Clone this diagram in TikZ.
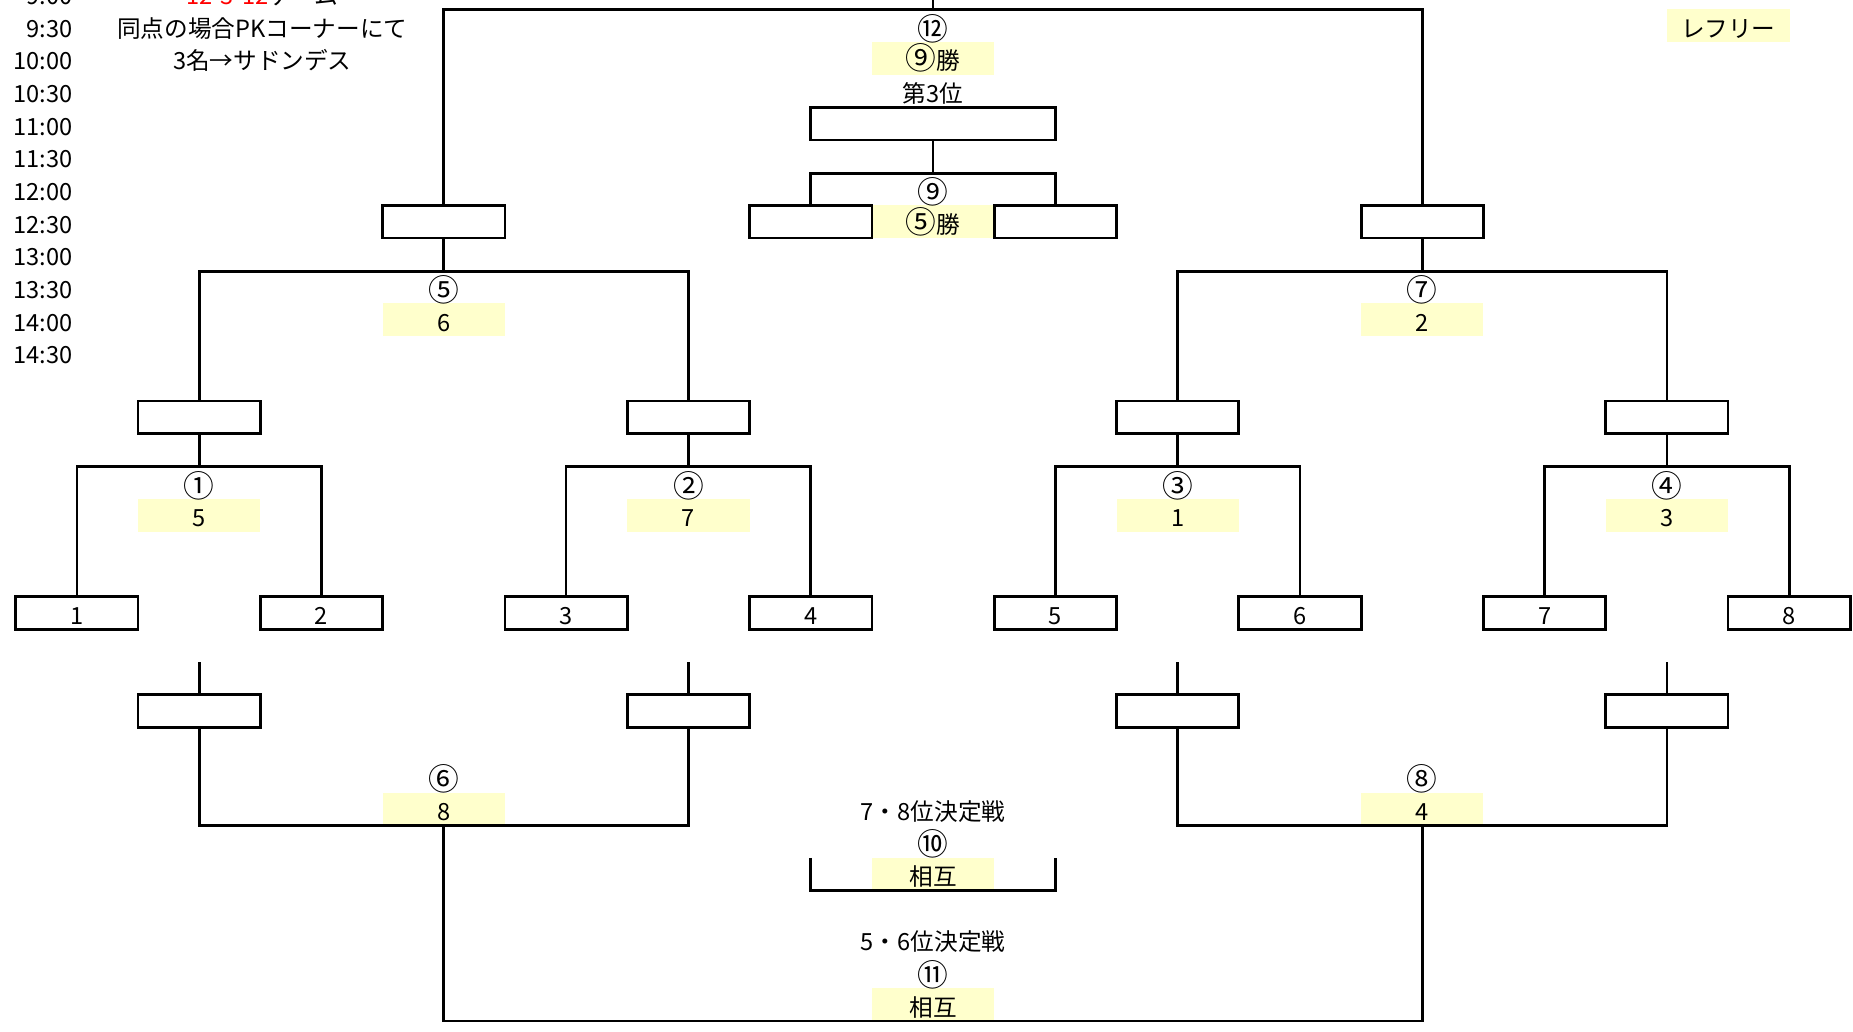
\documentclass[tikz,border=0pt]{standalone}
\usepackage{fontspec}
\setmainfont{Noto Sans CJK JP}
\definecolor{resyellow}{RGB}{255,255,204}
\begin{document}
\begin{tikzpicture}[x=0.5pt,y=-0.5pt,
  font=\fontsize{10pt}{12pt}\selectfont,
  txt/.style={inner sep=0pt, text height=0.98em, text depth=0pt},
  circ/.style={inner sep=0pt, font=\fontsize{13pt}{15pt}\selectfont, text height=1.22em, text depth=0pt},
  slot/.style={txt, draw, line width=1.15pt, minimum width=51.75pt, minimum height=13.8pt},
  wideslot/.style={slot, minimum width=103.5pt},
  res/.style={txt, fill=resyellow, minimum width=51.75pt, minimum height=13.8pt},
  ln/.style={line width=1.15pt},
  tm/.style={txt, anchor=east}]
\useasboundingbox (0,0) rectangle (1568,873);

% ---- time column and notes ----
\node[tm] (t0)  at (62,-5.8)  {9:00};
\node[tm] (t1)  at (62,21.8)  {9:30};
\node[tm] (t2)  at (62,49.4)  {10:00};
\node[tm] (t3)  at (62,77.0)  {10:30};
\node[tm] (t4)  at (62,104.6) {11:00};
\node[tm] (t5)  at (62,132.3) {11:30};
\node[tm] (t6)  at (62,159.9) {12:00};
\node[tm] (t7)  at (62,187.5) {12:30};
\node[tm] (t8)  at (62,215.1) {13:00};
\node[tm] (t9)  at (62,242.7) {13:30};
\node[tm] (t10) at (62,270.3) {14:00};
\node[tm] (t11) at (62,297.9) {14:30};
\node[txt] (note0) at (222,-5.8) {{\color{red}12-3-12}ゲーム};
\node[txt] (note1) at (222,21.8) {同点の場合PKコーナーにて};
\node[txt] (note2) at (222,49.4) {3名→サドンデス};

% ---- yellow result cells ----
\node[res] (ref)  at (1462.5,21.8) {レフリー};
\node[res] (r12)  at (789.55,49.4) {{\fontsize{13pt}{15pt}\selectfont ⑨}勝};
\node[res] (r9)   at (789.55,187.5) {{\fontsize{13pt}{15pt}\selectfont ⑤}勝};
\node[res] (r5)   at (375.55,270.3) {6};
\node[res] (r7)   at (1203.55,270.3) {2};
\node[res] (r1)   at (168.55,436.0) {5};
\node[res] (r2)   at (582.55,436.0) {7};
\node[res] (r3)   at (996.55,436.0) {1};
\node[res] (r4)   at (1410.55,436.0) {3};
\node[res] (r6)   at (375.55,684.5) {8};
\node[res] (r8)   at (1203.55,684.5) {4};
\node[res] (r10)  at (789.55,739.7) {相互};
\node[res] (r11)  at (789.55,850.2) {相互};

% ---- match labels ----
\node[circ] (m12) at (789.55,21.8) {⑫};
\node[txt] (third) at (789.55,77.0) {第3位};
\node[circ] (m9)  at (789.55,159.9) {⑨};
\node[circ] (m5)  at (375.55,242.7) {⑤};
\node[circ] (m7)  at (1203.55,242.7) {⑦};
\node[circ] (m1)  at (168.55,408.4) {①};
\node[circ] (m2)  at (582.55,408.4) {②};
\node[circ] (m3)  at (996.55,408.4) {③};
\node[circ] (m4)  at (1410.55,408.4) {④};
\node[circ] (m6)  at (375.55,656.9) {⑥};
\node[circ] (m8)  at (1203.55,656.9) {⑧};
\node[txt] (p78) at (789.55,684.5) {7・8位決定戦};
\node[circ] (m10) at (789.55,712.1) {⑩};
\node[txt] (p56) at (789.55,794.9) {5・6位決定戦};
\node[circ] (m11) at (789.55,822.6) {⑪};

% ---- slots ----
\node[slot] (e1) at (65.05,518.8) {1};
\node[slot] (e2) at (272.05,518.8) {2};
\node[slot] (e3) at (479.05,518.8) {3};
\node[slot] (e4) at (686.05,518.8) {4};
\node[slot] (e5) at (893.05,518.8) {5};
\node[slot] (e6) at (1100.05,518.8) {6};
\node[slot] (e7) at (1307.05,518.8) {7};
\node[slot] (e8) at (1514.05,518.8) {8};

\node[slot] (q1) at (168.55,353.2) {};
\node[slot] (q2) at (582.55,353.2) {};
\node[slot] (q3) at (996.55,353.2) {};
\node[slot] (q4) at (1410.55,353.2) {};

\node[slot] (s1) at (375.55,187.5) {};
\node[slot] (s2) at (1203.55,187.5) {};

\node[slot] (l9a) at (686.05,187.5) {};
\node[slot] (l9b) at (893.05,187.5) {};
\node[wideslot] (w3) at (789.55,104.6) {};

\node[slot] (d1) at (168.55,601.7) {};
\node[slot] (d2) at (582.55,601.7) {};
\node[slot] (d3) at (996.55,601.7) {};
\node[slot] (d4) at (1410.55,601.7) {};

% ---- junction coordinates ----
\coordinate (jf) at (789.55,8);
\coordinate (jfup) at (789.55,-12);
\coordinate (j9) at (789.55,146.7);
\coordinate (j5) at (375.55,229.5);
\coordinate (j7) at (1203.55,229.5);
\coordinate (j1) at (168.55,394.5);
\coordinate (j2) at (582.55,394.5);
\coordinate (j3) at (996.55,394.5);
\coordinate (j4) at (1410.55,394.5);
\coordinate (u1) at (168.55,560.2);
\coordinate (u2) at (582.55,560.2);
\coordinate (u3) at (996.55,560.2);
\coordinate (u4) at (1410.55,560.2);
\coordinate (j6) at (375.55,698.25);
\coordinate (j8) at (1203.55,698.25);
\coordinate (jb) at (789.55,863.9);
\coordinate (k10a) at (686.05,725.9);
\coordinate (k10b) at (893.05,725.9);
\coordinate (j10) at (789.55,753.5);

% ---- connectors ----
\draw[ln] (s1.north) |- (jf) -| (s2.north);
\draw[ln] (jf) -- (jfup);
\draw[ln] (w3.south) -- (j9);
\draw[ln] (l9a.north) |- (j9) -| (l9b.north);

\draw[ln] (s1.south) -- (j5);
\draw[ln] (q1.north) |- (j5) -| (q2.north);
\draw[ln] (s2.south) -- (j7);
\draw[ln] (q3.north) |- (j7) -| (q4.north);

\draw[ln] (q1.south) -- (j1);
\draw[ln] (e1.north) |- (j1) -| (e2.north);
\draw[ln] (q2.south) -- (j2);
\draw[ln] (e3.north) |- (j2) -| (e4.north);
\draw[ln] (q3.south) -- (j3);
\draw[ln] (e5.north) |- (j3) -| (e6.north);
\draw[ln] (q4.south) -- (j4);
\draw[ln] (e7.north) |- (j4) -| (e8.north);

\draw[ln] (u1) -- (d1.north);
\draw[ln] (u2) -- (d2.north);
\draw[ln] (u3) -- (d3.north);
\draw[ln] (u4) -- (d4.north);
\draw[ln] (d1.south) |- (j6) -| (d2.south);
\draw[ln] (d3.south) |- (j8) -| (d4.south);
\draw[ln] (j6) |- (jb) -| (j8);
\draw[ln] (k10a) |- (j10) -| (k10b);
\end{tikzpicture}
\end{document}
